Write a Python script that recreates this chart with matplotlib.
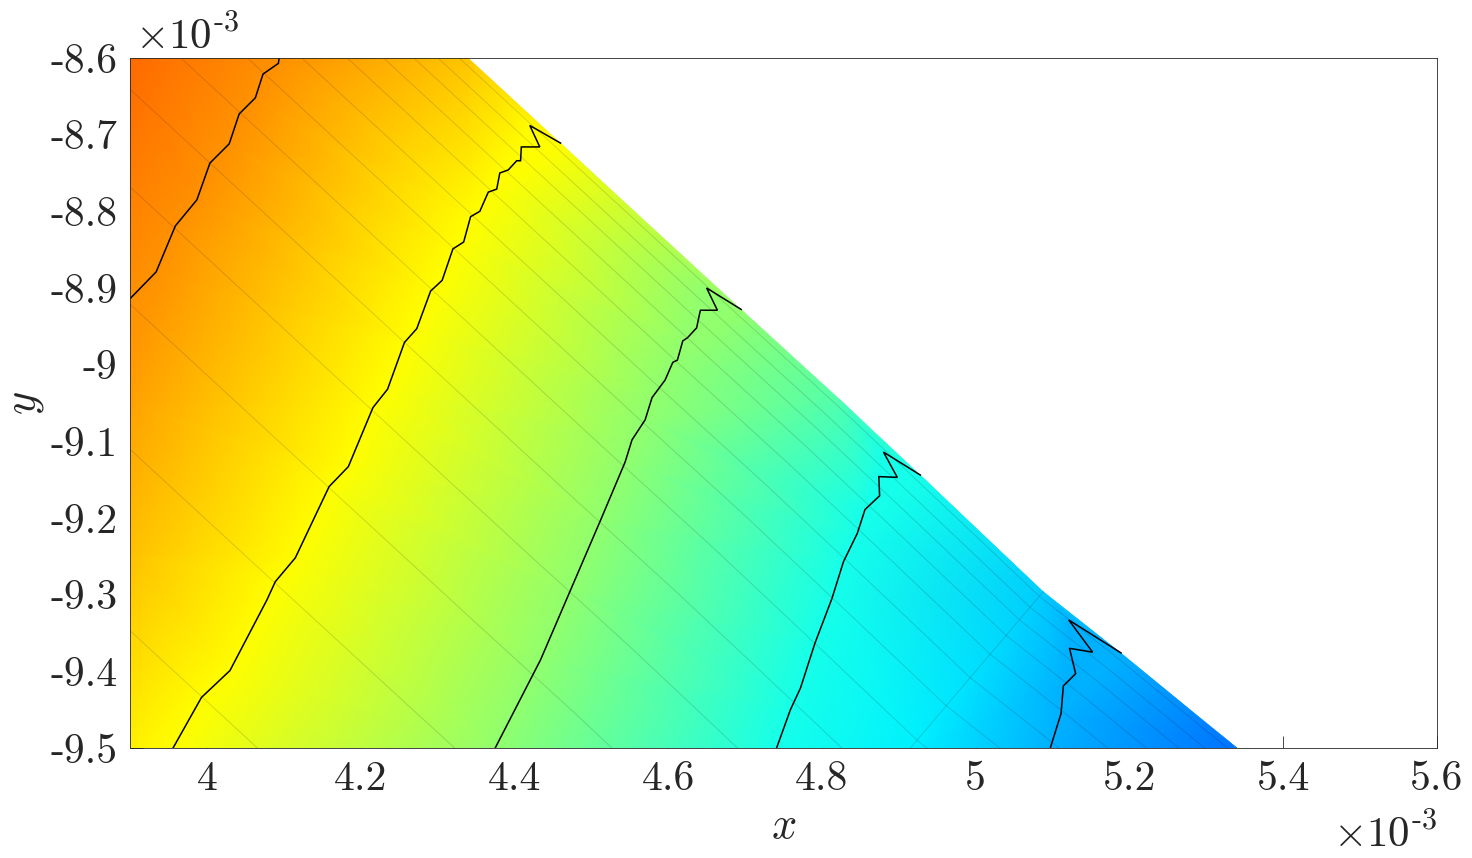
import numpy as np
import matplotlib
matplotlib.use('Agg')
import matplotlib.pyplot as plt
from matplotlib.tri import Triangulation
from matplotlib.patches import Polygon
from matplotlib.colors import LinearSegmentedColormap

plt.rcParams['mathtext.fontset'] = 'cm'

# ---------------- data (x, y in units of 1e-3) ----------------
# contour levels on the colour scale (MATLAB jet, 0..1)
levels = [0.734, 0.625, 0.516, 0.395, 0.297]

c1_x = [4.094, 4.093, 4.073, 4.063, 4.042, 4.029, 4.004, 3.987, 3.959, 3.934, 3.900]
c1_y = [-8.600, -8.607, -8.621, -8.652, -8.673, -8.712, -8.737, -8.785, -8.819, -8.879, -8.914]

c2_x = [3.956, 3.993, 4.030, 4.078, 4.089, 4.115, 4.159, 4.184, 4.216, 4.235, 4.257,
        4.273, 4.291, 4.306, 4.320, 4.334, 4.343, 4.355, 4.366, 4.377, 4.381, 4.392,
        4.403, 4.408, 4.409, 4.433, 4.420, 4.460]
c2_y = [-9.500, -9.434, -9.399, -9.307, -9.283, -9.252, -9.159, -9.133, -9.056, -9.032, -8.971,
        -8.953, -8.904, -8.890, -8.849, -8.840, -8.807, -8.800, -8.775, -8.771, -8.750, -8.746,
        -8.734, -8.734, -8.716, -8.716, -8.688, -8.711]

c3_x = [4.375, 4.434, 4.473, 4.512, 4.544, 4.553, 4.570, 4.579, 4.596, 4.606, 4.612,
        4.619, 4.625, 4.637, 4.641, 4.642, 4.664, 4.650, 4.695]
c3_y = [-9.500, -9.385, -9.294, -9.203, -9.127, -9.098, -9.072, -9.043, -9.020, -8.997, -8.994,
        -8.969, -8.965, -8.952, -8.933, -8.929, -8.929, -8.900, -8.928]

c4_x = [4.741, 4.759, 4.772, 4.791, 4.813, 4.828, 4.846, 4.856, 4.875, 4.874, 4.898, 4.880, 4.928]
c4_y = [-9.500, -9.450, -9.422, -9.363, -9.305, -9.257, -9.220, -9.189, -9.171, -9.146, -9.147,
        -9.114, -9.144]

c5_x = [5.097, 5.111, 5.114, 5.130, 5.122, 5.152, 5.121, 5.189]
c5_y = [-9.500, -9.455, -9.419, -9.403, -9.370, -9.375, -9.333, -9.376]

# upper-right edge of the domain and colour value along it
edge_x = [4.340, 4.460, 4.695, 4.824, 4.928, 5.088, 5.189, 5.340]
edge_y = [-8.600, -8.711, -8.928, -9.046, -9.144, -9.296, -9.376, -9.500]
edge_val = [0.68, 0.625, 0.516, 0.455, 0.395, 0.325, 0.297, 0.235]

# left edge of the domain (top to bottom) and colour value along it
left_x = [3.9, 3.9, 3.9, 3.9]
left_y = [-8.6, -9.05, -9.25, -9.5]
left_val = [0.77, 0.715, 0.685, 0.64]

# extra samples on the bottom edge
bottom_x = [4.92]
bottom_y = [-9.5]
bottom_val = [0.36]

# faint mesh: cross line through the edge kink, and shifts of the edge along it
cross_x = [5.088, 4.915]
cross_y = [-9.296, -9.500]
mesh_shift = [0.03, 0.10, 0.18, 0.28, 0.40, 0.55, 0.73, 0.95, 1.23, 1.58, 2.00, 2.52, 3.17]

# MATLAB jet colormap anchors
jet_pos = [0.0, 0.125, 0.375, 0.625, 0.875, 1.0]
jet_rgb = [(0, 0, 0.5), (0, 0, 1), (0, 1, 1), (1, 1, 0), (1, 0, 0), (0.5, 0, 0)]

xticks = [4.0, 4.2, 4.4, 4.6, 4.8, 5.0, 5.2, 5.4, 5.6]
xticklabels = ['4', '4.2', '4.4', '4.6', '4.8', '5', '5.2', '5.4', '5.6']
yticks = [-9.5, -9.4, -9.3, -9.2, -9.1, -9.0, -8.9, -8.8, -8.7, -8.6]
yticklabels = ['-9.5', '-9.4', '-9.3', '-9.2', '-9.1', '-9', '-8.9', '-8.8', '-8.7', '-8.6']
xlim = (3.9, 5.6)
ylim = (-9.5, -8.6)

# ---------------- build the field points ----------------
cxs = [c1_x, c2_x, c3_x, c4_x, c5_x]
cys = [c1_y, c2_y, c3_y, c4_y, c5_y]
pts = {}
for lx, ly, lv in zip(cxs, cys, levels):
    for a, b in zip(lx, ly):
        pts[(round(a, 3), round(b, 3))] = lv
for a, b, v in zip(edge_x + left_x + bottom_x, edge_y + left_y + bottom_y,
                   edge_val + left_val + bottom_val):
    key = (round(a, 3), round(b, 3))
    if key not in pts:
        pts[key] = v
px = np.array([k[0] for k in pts])
py = np.array([k[1] for k in pts])
pv = np.array(list(pts.values()))

jet = LinearSegmentedColormap.from_list('matlab_jet', list(zip(jet_pos, jet_rgb)), N=256)

fig = plt.figure(figsize=(14.72, 8.58), dpi=100)
ax = fig.add_axes([130 / 1472, 1 - 748 / 858, 1307 / 1472, 690 / 858])

domain = np.column_stack([[left_x[-1], left_x[0]] + edge_x,
                          [left_y[-1], left_y[0]] + edge_y])
clip = Polygon(domain, closed=True, facecolor='none', edgecolor='none',
               transform=ax.transData)
ax.add_patch(clip)

tri = Triangulation(px, py)
tp = ax.tripcolor(tri, pv, shading='gouraud', cmap=jet, vmin=0, vmax=1, zorder=1)
tp.set_clip_path(clip)

# mesh lines
ex = np.array(edge_x)
ey = np.array(edge_y)
d0 = np.array([ex[0] - ex[1], ey[0] - ey[1]])
d1 = np.array([ex[-1] - ex[-2], ey[-1] - ey[-2]])
ext_x = np.concatenate([[ex[0] + 20 * d0[0]], ex, [ex[-1] + 20 * d1[0]]])
ext_y = np.concatenate([[ey[0] + 20 * d0[1]], ey, [ey[-1] + 20 * d1[1]]])
vx = cross_x[1] - cross_x[0]
vy = cross_y[1] - cross_y[0]
for t in mesh_shift:
    ln, = ax.plot(ext_x + t * vx, ext_y + t * vy, color='black', lw=0.7,
                  alpha=0.14, zorder=2)
    ln.set_clip_path(clip)
ln, = ax.plot(cross_x, cross_y, color='black', lw=0.7, alpha=0.14, zorder=2)
ln.set_clip_path(clip)

# contour lines
for lx, ly in zip(cxs, cys):
    ax.plot(lx, ly, color='black', lw=1.1, zorder=3, solid_joinstyle='miter')

ax.set_xlim(*xlim)
ax.set_ylim(*ylim)
ax.set_axisbelow(True)
tick_font = dict(family='cmr10', size=30, color='#262626')
ax.set_xticks(xticks)
ax.set_xticklabels(xticklabels, fontdict=tick_font)
ax.set_yticks(yticks)
ax.set_yticklabels(yticklabels, fontdict=tick_font)
ax.tick_params(direction='in', length=9, width=0.6, color='#262626', pad=9)
for s in ax.spines.values():
    s.set_color('#262626')
    s.set_linewidth(0.6)
    s.set_zorder(4)

ax.set_xlabel('$x$', fontsize=32, color='#262626', labelpad=4)
ax.set_ylabel('$y$', fontsize=32, color='#262626', labelpad=3)

fig.text(135 / 1472, 1 - 49 / 858, r'$\times10^{\text{-}3}$', fontsize=31,
         color='#262626', ha='left', va='baseline')
fig.text(1437 / 1472, 1 - 847 / 858, r'$\times10^{\text{-}3}$', fontsize=31,
         color='#262626', ha='right', va='baseline')

fig.savefig('out.png', dpi=100)
